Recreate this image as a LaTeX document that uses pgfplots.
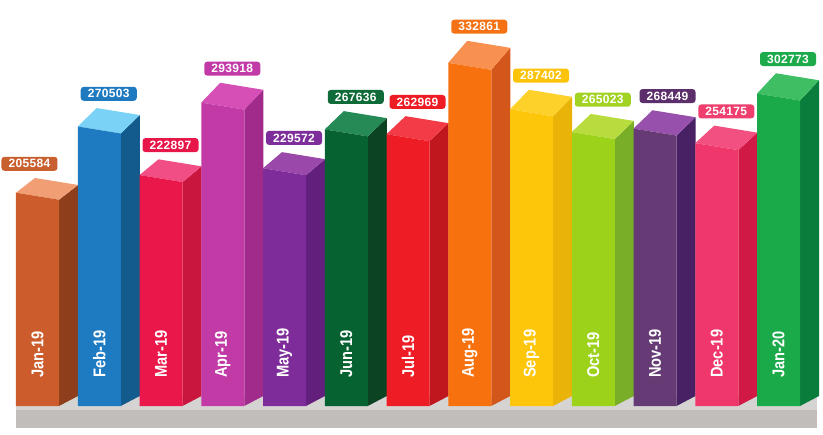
\documentclass[border=0pt]{standalone}
\usepackage{pgfplots}
\pgfplotsset{compat=1.18}
\usepackage{pgfplotstable}
\usepackage{fontspec}
\setmainfont{Liberation Sans}
\newfontfamily\vfont[LetterSpace=3]{Liberation Sans}
\newfontfamily\mfont[FakeStretch=0.86]{Liberation Sans}

% front / side / top / label colours, one set per month
\definecolor{fr0}{HTML}{CC5C2C}\definecolor{sd0}{HTML}{8E3E1B}\definecolor{tp0}{HTML}{F29E74}\definecolor{lb0}{HTML}{C9602F}
\definecolor{fr1}{HTML}{1E7BC2}\definecolor{sd1}{HTML}{135A8D}\definecolor{tp1}{HTML}{7AD2F6}\definecolor{lb1}{HTML}{1F7AC0}
\definecolor{fr2}{HTML}{E9174A}\definecolor{sd2}{HTML}{C9163F}\definecolor{tp2}{HTML}{F24E86}\definecolor{lb2}{HTML}{E8174A}
\definecolor{fr3}{HTML}{C23AA6}\definecolor{sd3}{HTML}{A02B8B}\definecolor{tp3}{HTML}{D54FB6}\definecolor{lb3}{HTML}{C23AA8}
\definecolor{fr4}{HTML}{7E2C9A}\definecolor{sd4}{HTML}{62207C}\definecolor{tp4}{HTML}{9B48AB}\definecolor{lb4}{HTML}{7D2E9A}
\definecolor{fr5}{HTML}{076231}\definecolor{sd5}{HTML}{0B4323}\definecolor{tp5}{HTML}{258A56}\definecolor{lb5}{HTML}{0F6B38}
\definecolor{fr6}{HTML}{EE1C25}\definecolor{sd6}{HTML}{C0161E}\definecolor{tp6}{HTML}{F23B46}\definecolor{lb6}{HTML}{EE1C25}
\definecolor{fr7}{HTML}{F7720F}\definecolor{sd7}{HTML}{D3561A}\definecolor{tp7}{HTML}{F8904F}\definecolor{lb7}{HTML}{F57214}
\definecolor{fr8}{HTML}{FEC60A}\definecolor{sd8}{HTML}{EAB308}\definecolor{tp8}{HTML}{FED02A}\definecolor{lb8}{HTML}{FCC30B}
\definecolor{fr9}{HTML}{9DD21B}\definecolor{sd9}{HTML}{78AE28}\definecolor{tp9}{HTML}{B8DC3D}\definecolor{lb9}{HTML}{A3D322}
\definecolor{fr10}{HTML}{663B75}\definecolor{sd10}{HTML}{482165}\definecolor{tp10}{HTML}{9750AB}\definecolor{lb10}{HTML}{5C2E6C}
\definecolor{fr11}{HTML}{EF376B}\definecolor{sd11}{HTML}{D11945}\definecolor{tp11}{HTML}{F15081}\definecolor{lb11}{HTML}{EE3F6F}
\definecolor{fr12}{HTML}{1BAA4A}\definecolor{sd12}{HTML}{0A7C3B}\definecolor{tp12}{HTML}{40BE63}\definecolor{lb12}{HTML}{1CAA4B}
\definecolor{floortop}{HTML}{D6D4D2}
\definecolor{floorfront}{HTML}{C1BDBB}

% m = month, v = value, lx = extra shift of the value label (px)
\pgfplotstableread{
m      v      lx
Jan-19 205584 -17.5
Feb-19 270503 0
Mar-19 222897 0
Apr-19 293918 0
May-19 229572 0
Jun-19 267636 0
Jul-19 262969 0
Aug-19 332861 0
Sep-19 287402 0
Oct-19 265023 0
Nov-19 268449 3
Dec-19 254175 0
Jan-20 302773 0
}\data

\begin{document}
\begin{tikzpicture}[
    mlab/.style={rotate=90, anchor=west, text=white, inner sep=0pt,
        font=\mfont\bfseries\fontsize{17}{19}\selectfont},
    vlab/.style={anchor=south, text=white, inner sep=0pt, rounded corners=3pt,
        minimum width=56pt, minimum height=14pt,
        font=\vfont\bfseries\fontsize{12}{14}\selectfont}]
\begin{axis}[
    width=823pt, height=434pt, scale only axis,
    hide axis, clip=false,
    xmin=-0.6073, xmax=12.7206,
    ymin=-27440, ymax=397880]
  \fill[white] (rel axis cs:0,0) rectangle (rel axis cs:1,1);
  % floor
  \fill[floortop] (axis cs:-0.3482,-3920) rectangle (axis cs:12.62,9800);
  \fill[floorfront] (axis cs:-0.3482,-21560) rectangle (axis cs:12.62,-3920);
  % bars: side, top, front
  \pgfplotsforeachungrouped \i in {0,...,12}{%
    \pgfplotstablegetelem{\i}{v}\of\data \let\v\pgfplotsretval
    \edef\xa{\fpeval{\i-0.3482}}%
    \edef\xb{\fpeval{\i+0.3482}}%
    \edef\xc{\fpeval{\i+0.3482+0.3077}}%
    \edef\xd{\fpeval{\i-0.3482+0.3077}}%
    \edef\dy{\fpeval{(3+\v*5.71e-5)*980}}%
    \edef\ya{\fpeval{\v+3430}}%
    \edef\yb{\fpeval{\v-3430}}%
    \edef\yc{\fpeval{\v-3430+\dy}}%
    \edef\yd{\fpeval{\v+3430+\dy}}%
    \edef\temp{%
      \noexpand\addplot[draw=none, fill=sd\i] coordinates {(\xb,0) (\xb,\yb) (\xc,\yc) (\xc,9800)};
      \noexpand\addplot[draw=none, fill=tp\i] coordinates {(\xa,\ya) (\xb,\yb) (\xc,\yc) (\xd,\yd)};
      \noexpand\addplot[draw=none, fill=fr\i] coordinates {(\xa,0) (\xa,\ya) (\xb,\yb) (\xb,0)};
    }\temp
  }
  % labels
  \pgfplotsforeachungrouped \i in {0,...,12}{%
    \pgfplotstablegetelem{\i}{v}\of\data \let\v\pgfplotsretval
    \pgfplotstablegetelem{\i}{m}\of\data \let\mn\pgfplotsretval
    \pgfplotstablegetelem{\i}{lx}\of\data \let\lx\pgfplotsretval
    \edef\xl{\fpeval{\i+0.1538+\lx/61.75}}%
    \edef\yl{\fpeval{\v+3430+(3+\v*5.71e-5)*980+6860}}%
    \edef\temp{%
      \noexpand\node[mlab] at (axis cs:\i,27440) {\mn};
      \noexpand\node[vlab, fill=lb\i] at (axis cs:\xl,\yl) {\v};
    }\temp
  }
\end{axis}
\end{tikzpicture}
\end{document}
